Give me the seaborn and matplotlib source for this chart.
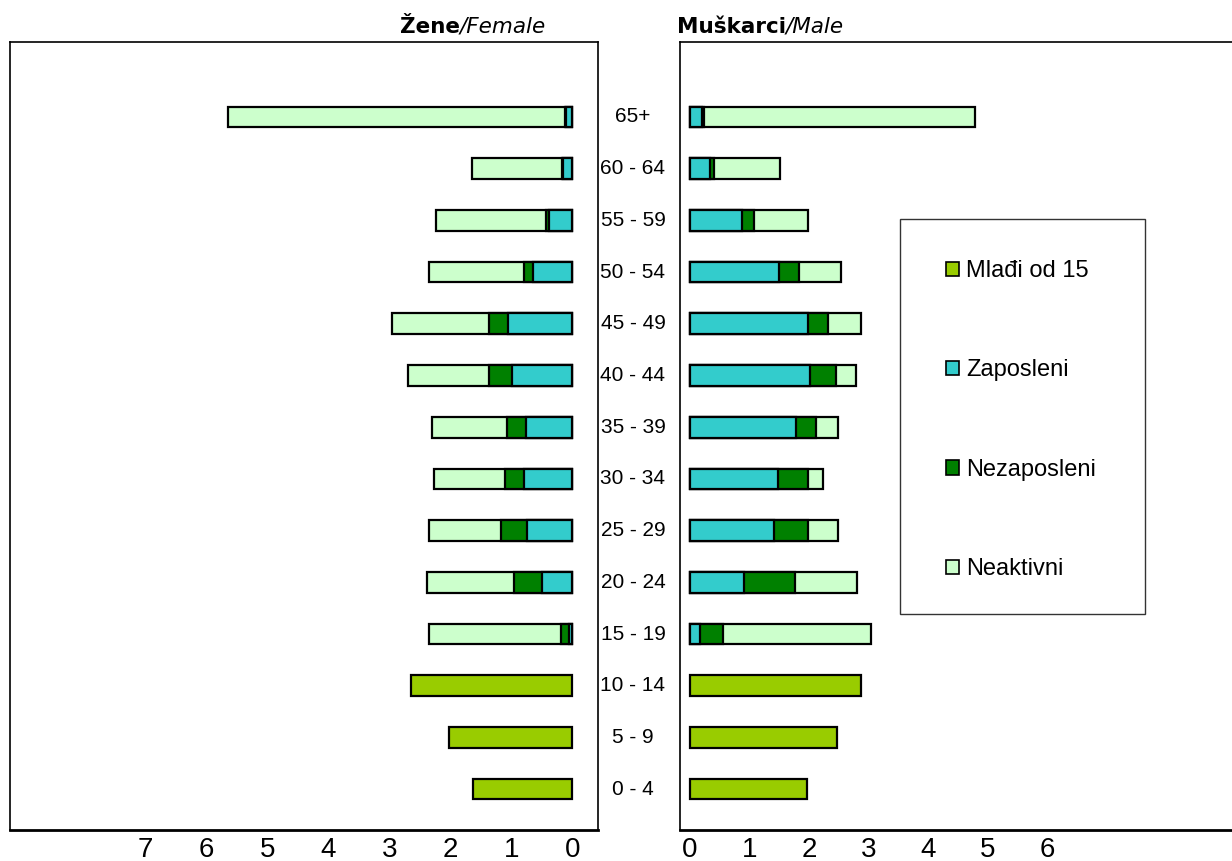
import numpy as np
import pandas as pd
import seaborn as sns
import matplotlib
matplotlib.use("Agg")
import matplotlib.pyplot as plt
from matplotlib.patches import Patch, Rectangle
from matplotlib.transforms import blended_transform_factory

# ---------------- data (values in the chart's units) ----------------
ages = ['65+', '60 - 64', '55 - 59', '50 - 54', '45 - 49', '40 - 44', '35 - 39',
        '30 - 34', '25 - 29', '20 - 24', '15 - 19', '10 - 14', '5 - 9', '0 - 4']

# Female (Žene)
f_zaposleni   = [0.10, 0.15, 0.39, 0.65, 1.06, 0.99, 0.76, 0.80, 0.74, 0.50, 0.06, None, None, None]
f_nezaposleni = [0.02, 0.02, 0.05, 0.15, 0.31, 0.38, 0.31, 0.30, 0.43, 0.46, 0.13, None, None, None]
f_neaktivni   = [5.52, 1.47, 1.79, 1.56, 1.59, 1.33, 1.23, 1.17, 1.19, 1.43, 2.17, None, None, None]
f_mladji      = [None, None, None, None, None, None, None, None, None, None, None, 2.65, 2.02, 1.63]

# Male (Muškarci)
m_zaposleni   = [0.20, 0.34, 0.87, 1.50, 1.98, 2.02, 1.78, 1.48, 1.42, 0.91, 0.17, None, None, None]
m_nezaposleni = [0.04, 0.07, 0.20, 0.33, 0.34, 0.44, 0.34, 0.50, 0.57, 0.85, 0.39, None, None, None]
m_neaktivni   = [4.55, 1.10, 0.91, 0.71, 0.56, 0.33, 0.36, 0.26, 0.49, 1.04, 2.48, None, None, None]
m_mladji      = [None, None, None, None, None, None, None, None, None, None, None, 2.87, 2.47, 1.97]

series_names = ['Mlađi od 15', 'Zaposleni', 'Nezaposleni', 'Neaktivni']
colors = {'Mlađi od 15': '#99CC00', 'Zaposleni': '#33CCCC',
          'Nezaposleni': '#008000', 'Neaktivni': '#CCFFCC'}

left_ticks = [7, 6, 5, 4, 3, 2, 1, 0]
right_ticks = [0, 1, 2, 3, 4, 5, 6]

# ---------------- styling ----------------
sns.set_style("white")
plt.rcParams['font.family'] = ['Liberation Sans', 'DejaVu Sans']
plt.rcParams['text.color'] = 'black'
plt.rcParams['xtick.color'] = 'black'
plt.rcParams['xtick.labelcolor'] = 'black'

W, H = 1232, 861
fig = plt.figure(figsize=(W / 100, H / 100), dpi=100)


def rect(x0, y0, x1, y1):
    return [x0 / W, 1 - y1 / H, (x1 - x0) / W, (y1 - y0) / H]


axL = fig.add_axes(rect(10, 42, 598, 830))
axR = fig.add_axes(rect(680, 42, 1232, 830))


def to_arr(v):
    return np.array([np.nan if x is None else x for x in v], dtype=float)


def draw_panel(ax, zap, nez, neak, young):
    zap, nez, neak, young = map(to_arr, (zap, nez, neak, young))
    layers = [
        (zap + nez + neak, colors['Neaktivni']),
        (zap + nez, colors['Nezaposleni']),
        (zap, colors['Zaposleni']),
        (young, colors['Mlađi od 15']),
    ]
    for vals, col in layers:
        df = pd.DataFrame({'age': ages, 'value': vals})
        sns.barplot(data=df, x='value', y='age', order=ages, orient='h',
                    color=col, saturation=1, edgecolor='black', linewidth=1.6,
                    width=0.4, errorbar=None, ax=ax)
    ax.set_xlabel('')
    ax.set_ylabel('')
    ax.set_yticks([])
    ax.set_ylim(13.79, -1.45)
    for s in ax.spines.values():
        s.set_visible(True)
        s.set_color('black')
        s.set_linewidth(1.2)
    ax.spines['bottom'].set_linewidth(2.0)
    ax.tick_params(axis='x', length=0, pad=5, labelsize=20, colors='black')
    ax.grid(False)


draw_panel(axL, f_zaposleni, f_nezaposleni, f_neaktivni, f_mladji)
draw_panel(axR, m_zaposleni, m_nezaposleni, m_neaktivni, m_mladji)

axL.set_xlim(9.22, -0.418)
axL.set_xticks(left_ticks)
axL.set_xticklabels([str(t) for t in left_ticks])

axR.set_xlim(-0.168, 9.11)
axR.set_xticks(right_ticks)
axR.set_xticklabels([str(t) for t in right_ticks])
axR.spines['right'].set_visible(False)

# age-group labels between the panels
tr = blended_transform_factory(fig.transFigure, axR.transData)
for i, a in enumerate(ages):
    axR.text(633 / W, i, a, transform=tr, ha='center', va='center',
             fontsize=15, color='black', clip_on=False)

# panel titles: bold Croatian / italic English
renderer = fig.canvas.get_renderer()


def title(x_px, bold, ital):
    t1 = fig.text(x_px / W, 1 - 27 / H, bold, fontsize=15.5, fontweight='bold',
                  family='DejaVu Sans', ha='left', va='center', color='black')
    bb = t1.get_window_extent(renderer=renderer)
    fig.text(bb.x1 / W, 1 - 27 / H, ital, fontsize=15.5, style='italic',
             family='DejaVu Sans', ha='left', va='center', color='black')


title(400, 'Žene', '/Female')
title(677, 'Muškarci', '/Male')

# legend
fig.patches.append(Rectangle((900 / W, 1 - 614 / H), 245 / W, 395 / H,
                             transform=fig.transFigure, fill=False,
                             edgecolor='#333333', linewidth=1.0))
handles = [Patch(facecolor=colors[n], edgecolor='black', linewidth=1.2) for n in series_names]
leg = fig.legend(handles, series_names, loc='upper left',
                 bbox_to_anchor=(946 / W, 1 - 260 / H), frameon=False, fontsize=17,
                 handlelength=0.55, handleheight=0.55, handletextpad=0.3,
                 labelspacing=3.28, borderpad=0, borderaxespad=0)
for t in leg.get_texts():
    t.set_color('black')

fig.savefig('out.png', dpi=100)
